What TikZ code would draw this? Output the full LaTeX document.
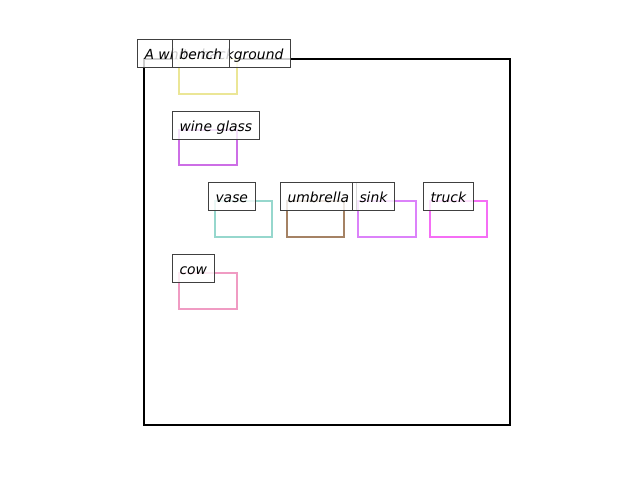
\documentclass[tikz,border=0pt]{standalone}
\usepackage{fontspec}
\setmainfont{DejaVu Sans}
\definecolor{cbench}{RGB}{235,230,150}
\definecolor{cwine}{RGB}{205,110,230}
\definecolor{cvase}{RGB}{150,215,205}
\definecolor{cumb}{RGB}{165,130,100}
\definecolor{csink}{RGB}{220,130,250}
\definecolor{ctruck}{RGB}{245,110,245}
\definecolor{ccow}{RGB}{240,155,195}
\definecolor{edgegray}{RGB}{64,64,64}
\tikzset{
  objbox/.style={line width=2.8pt},
  lbl/.style={draw=edgegray, line width=1pt, fill=white, fill opacity=0.8, text opacity=1,
    anchor=south west, inner xsep=7pt, inner ysep=0pt, minimum height=28pt,
    text height=12pt, text depth=1pt,
    font=\fontsize{13.9}{16}\selectfont\itshape},
  frame/.style={draw=black, line width=2pt}
}
\begin{document}
\begin{tikzpicture}[x=1pt,y=-1pt]
\useasboundingbox (0,0) rectangle (640,480);
\draw[frame] (144,59) rectangle (510,425);
\draw[objbox, cbench] (179,59) rectangle (237,94);
\draw[objbox, cwine] (179,130) rectangle (237,165);
\draw[objbox, cvase] (215,201) rectangle (272,237);
\draw[objbox, cumb] (287,201) rectangle (344,237);
\draw[objbox, csink] (358,201) rectangle (416,237);
\draw[objbox, ctruck] (430,201) rectangle (487,237);
\draw[objbox, ccow] (179,273) rectangle (237,309);
\node[lbl] (lbg) at (137,68) {A white background};
\node[lbl] (lbench) at (172,68) {bench};
\node[lbl] (lwine) at (172,140) {wine glass};
\node[lbl] (lvase) at (208,211) {vase};
\node[lbl] (lumb) at (280,211) {umbrella};
\node[lbl] (lsink) at (352,211) {sink};
\node[lbl] (ltruck) at (423,211) {truck};
\node[lbl] (lcow) at (172,283) {cow};
\end{tikzpicture}
\end{document}
